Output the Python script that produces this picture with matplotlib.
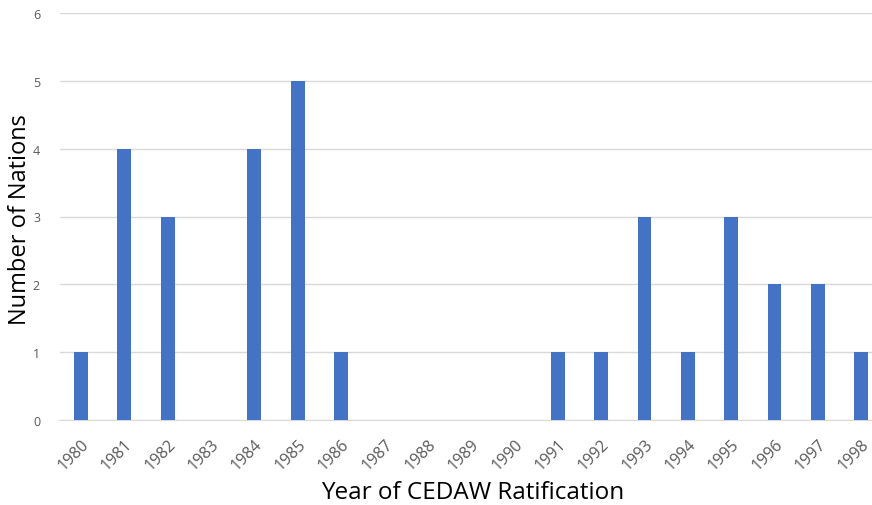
import matplotlib
matplotlib.use("Agg")
import matplotlib.pyplot as plt

years = ["1980", "1981", "1982", "1983", "1984", "1985", "1986", "1987", "1988", "1989",
         "1990", "1991", "1992", "1993", "1994", "1995", "1996", "1997", "1998"]
nations = [1, 4, 3, 0, 4, 5, 1, 0, 0, 0, 0, 1, 1, 3, 1, 3, 2, 2, 1]
y_ticks = [0, 1, 2, 3, 4, 5, 6]

W, H = 872, 506
fig = plt.figure(figsize=(W / 100, H / 100), dpi=100)
left, right, top, bottom = 59.5, 872, 14, 421
ax = fig.add_axes([left / W, (H - bottom) / H, (right - left) / W, (bottom - top) / H])

x = list(range(len(years)))
ax.bar(x, nations, width=0.32, color="#4472C4", zorder=3)

ax.set_xlim(-0.496, 18.25)
ax.set_ylim(0, 6)
ax.set_yticks(y_ticks)
ax.set_xticks(x)
ax.set_xticklabels(years, rotation=45, ha="right", rotation_mode="anchor")

ax.grid(axis="y", color="#D9D9D9", linewidth=1, zorder=0)
for s in ["top", "right", "left"]:
    ax.spines[s].set_visible(False)
ax.spines["bottom"].set_color("#D9D9D9")
ax.tick_params(axis="y", length=0, colors="#595959", labelsize=9, pad=14)
ax.tick_params(axis="x", length=0, colors="#595959", labelsize=11.5, pad=11)
for lab in ax.get_xticklabels() + ax.get_yticklabels():
    lab.set_fontfamily("Open Sans")

fig.text(20 / W, 1 - 220 / H, "Number of Nations", rotation=90, ha="center", va="center",
         fontsize=17, color="#000000", family="Open Sans")
fig.text(473 / W, 1 - 493 / H, "Year of CEDAW Ratification", ha="center", va="center",
         fontsize=17.5, color="#000000", family="Open Sans")

fig.savefig("out.png", dpi=100)
